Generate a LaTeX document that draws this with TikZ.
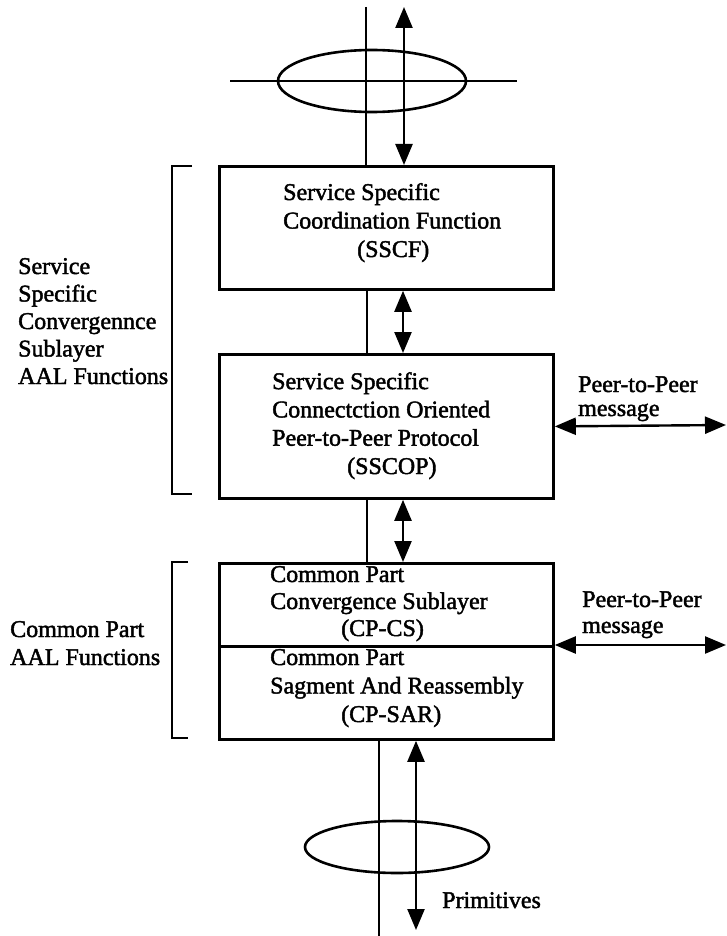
\documentclass[tikz,border=0pt]{standalone}
\usepackage{fontspec}
\setmainfont{Liberation Serif}
\newfontfamily\inkfont{Liberation Serif}[FakeBold=1.8]
\usetikzlibrary{arrows.meta,shapes.geometric}
\begin{document}
\begin{tikzpicture}[x=1pt,y=-1pt,
  txt/.style={anchor=base west, align=left, inner sep=0pt,
    font=\inkfont\fontsize{24}{28}\selectfont},
  layer/.style={draw, line width=2.8pt, inner sep=0pt, anchor=north west,
    minimum width=334pt},
  wire/.style={line width=2.6pt},
  ring/.style={draw, ellipse, line width=2.6pt, inner sep=0pt},
  bothway/.style={line width=2.4pt,
    {Triangle[length=21pt,width=17pt]}-{Triangle[length=21pt,width=17pt]}}]
\useasboundingbox (0,0) rectangle (726,936);

% protocol layers
\node[layer, minimum height=123pt] (sscf)  at (218,165) {};
\node[layer, minimum height=144pt] (sscop) at (218,353) {};
\node[layer, minimum height=83pt]  (cpcs)  at (218,562) {};
\node[layer, minimum height=93pt]  (cpsar) at (218,645) {};

% layer labels (anchored on the baseline of their last line)
\node[txt, font=\inkfont\fontsize{24}{28.5}\selectfont] (sscfT) at (283,257)
  {Service Specific\\Coordination Function\\\hspace*{74pt}(SSCF)};
\node[txt, font=\inkfont\fontsize{24}{28.3}\selectfont] (sscopT) at (272,474)
  {Service Specific\\Connectction Oriented\\Peer-to-Peer Protocol\\\hspace*{75pt}(SSCOP)};
\node[txt, font=\inkfont\fontsize{24}{27}\selectfont] (cpcsT) at (270,636)
  {Common Part\\Convergence Sublayer\\\hspace*{71pt}(CP-CS)};
\node[txt, font=\inkfont\fontsize{24}{28.5}\selectfont] (cpsarT) at (270,722)
  {Common Part\\Sagment And Reassembly\\\hspace*{71pt}(CP-SAR)};

% sublayer groupings on the left
\node[txt, font=\inkfont\fontsize{24}{27.5}\selectfont] (sscsT) at (18,384)
  {Service\\Specific\\Convergennce\\Sublayer\\AAL Functions};
\node[txt] (cpT) at (10,665) {Common Part\\AAL Functions};
\draw[wire] (192,166) -- (172,166) -- (172,494) -- (192,494);
\draw[wire] (188,562) -- (172,562) -- (172,738) -- (188,738);

% upper service access point
\coordinate (upWire) at (366,7);
\coordinate (upPrim) at (404,7);
\coordinate (sapL) at (230,81);
\coordinate (sapR) at (517,81);
\node[ring, minimum width=188pt, minimum height=62pt] (ringTop) at (372,81) {};
\draw[wire] (sapL) -- (sapR);
\draw[wire] (upWire) -- (upWire |- sscf.north);
\draw[bothway] (upPrim) -- (upPrim |- sscf.north);

% links between layers
\coordinate (midWire) at (367,0);
\coordinate (midPrim) at (403,0);
\draw[wire] (sscf.south -| midWire) -- (sscop.north -| midWire);
\draw[bothway] (sscf.south -| midPrim) -- (sscop.north -| midPrim);
\draw[wire] (sscop.south -| midWire) -- (cpcs.north -| midWire);
\draw[bothway] (sscop.south -| midPrim) -- (cpcs.north -| midPrim);

% peer-to-peer messages
\coordinate (peerA) at (726,425);
\coordinate (peerB) at (726,645);
\draw[bothway] (sscop.east) -- (peerA);
\draw[bothway] (cpsar.north east) -- (peerB);
\node[txt, font=\inkfont\fontsize{24}{24}\selectfont] (peerAT) at (578,416) {Peer-to-Peer\\message};
\node[txt, font=\inkfont\fontsize{24}{26}\selectfont] (peerBT) at (582,633) {Peer-to-Peer\\message};

% lower service access point
\coordinate (lowWire) at (379,936);
\coordinate (lowPrim) at (416,930);
\node[ring, minimum width=184pt, minimum height=52pt] (ringLow) at (397,847) {};
\draw[wire] (cpsar.south -| lowWire) -- (lowWire);
\draw[bothway] (cpsar.south -| lowPrim) -- (lowPrim);
\node[txt] (primT) at (442,908) {Primitives};
\end{tikzpicture}
\end{document}
